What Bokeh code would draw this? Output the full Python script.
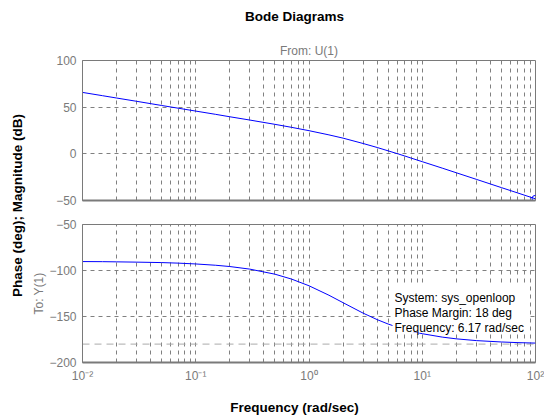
import math
from bokeh.plotting import figure
from bokeh.layouts import row, column
from bokeh.models import FixedTicker, CustomJSTickFormatter, Title, Span
from bokeh.core.properties import value
from bokeh.embed import file_html
from bokeh.resources import INLINE

# ---------------- data ----------------
freq = [0.01, 0.015, 0.02, 0.03, 0.05, 0.07, 0.1, 0.15, 0.2, 0.3, 0.5, 0.7,
        1.0, 1.5, 2.0, 3.0, 4.0, 5.0, 6.17, 7.0, 8.0, 10.0, 15.0, 20.0,
        30.0, 50.0, 70.0, 100.0]
mag_db = [65.8, 62.3, 59.8, 56.3, 51.8, 48.9, 45.8, 42.3, 39.7, 36.2, 31.6, 28.4,
          24.8, 20.3, 16.8, 11.1, 6.8, 3.2, -0.2, -2.3, -4.6, -8.4, -15.3, -20.3,
          -27.3, -36.2, -42.0, -48.2]
phase_deg = [-90.3, -90.4, -90.6, -90.9, -91.4, -92.0, -92.9, -94.3, -95.7, -98.5, -104.0, -109.3,
             -116.6, -126.9, -135.0, -146.3, -153.4, -158.2, -162.0, -164.1, -166.0, -168.7, -172.4, -174.3,
             -176.2, -177.7, -178.4, -178.9]

pm_freq = 6.17
pm_deg = 18
system_name = "sys_openloop"

mag_ticks = [-50, 0, 50, 100]
phase_ticks = [-200, -150, -100, -50]
phase_ref = -180
xtick_values = [0.01, 0.1, 1, 10, 100]
xtick_labels = ["10\u207b\u00b2", "10\u207b\u00b9", "10\u2070", "10\u00b9", "10\u00b2"]
grid_freqs = [m * 10.0 ** e for e in range(-2, 2) for m in range(1, 10)] + [100.0]

title_text = "Bode Diagrams"
from_text = "From: U(1)"
to_text = "To: Y(1)"
ylabel_text = "Phase (deg); Magnitude (dB)"
xlabel_text = "Frequency (rad/sec)"

# ---------------- styling ----------------
FONT = "Liberation Sans"
GRAY = "#7a7a7a"
GRID = "#808080"
BLUE = "#0000ff"

W = 544
TOP_H = 30      # strip holding the main title
BOT_H = 24      # strip holding the x label
MID_H = 420 - TOP_H - BOT_H
LEFT_W = 28

fmt = CustomJSTickFormatter(args=dict(vals=xtick_values, labs=xtick_labels), code="""
let best = 0, d = Infinity;
for (let i = 0; i < vals.length; i++) {
  const dd = Math.abs(Math.log10(vals[i]) - Math.log10(tick));
  if (dd < d) { d = dd; best = i; }
}
return labs[best];
""")


def blank(width, height):
    f = figure(width=width, height=height, x_range=(0, width), y_range=(0, height),
               x_axis_location=None, y_axis_location=None, toolbar_location=None,
               output_backend="svg", min_border=0, title=None)
    f.outline_line_color = None
    f.grid.grid_line_color = None
    f.grid.visible = False
    return f


def style(p):
    p.outline_line_color = GRAY
    p.outline_line_width = 1
    p.background_fill_color = "white"
    p.border_fill_color = "white"
    for ax in p.axis:
        ax.axis_line_color = GRAY
        ax.major_tick_in = 0
        ax.major_tick_out = 0
        ax.minor_tick_in = 0
        ax.minor_tick_out = 0
        ax.major_label_text_font = FONT
        ax.major_label_text_font_size = "12px"
        ax.major_label_text_color = GRAY
        ax.major_label_standoff = 6
    p.xaxis.axis_line_width = 2
    p.yaxis.axis_line_width = 1
    p.xgrid.ticker = FixedTicker(ticks=grid_freqs)
    for g in p.grid:
        g.grid_line_color = GRID
        g.grid_line_dash = "4 4"
        g.grid_line_width = 1


label_style = dict(text_font=value(FONT), text_font_size="13.5px", text_font_style="bold",
                   text_color="black", text_align="center", text_baseline="middle")

# ---------------- top strip: main title ----------------
pT = blank(W, TOP_H)
pT.text(x=[294], y=[TOP_H - 16], text=[title_text], **label_style)

# ---------------- left strip: shared y label ----------------
p0 = blank(LEFT_W, MID_H)
p0.text(x=[17], y=[MID_H - (205 - TOP_H)], text=[ylabel_text], angle=math.pi / 2, **label_style)

# ---------------- bottom strip: x label ----------------
pB = blank(W, BOT_H)
pB.text(x=[294], y=[BOT_H - (407 - (420 - BOT_H))], text=[xlabel_text], **label_style)

# ---------------- magnitude ----------------
p1 = figure(width=W - LEFT_W, height=212 - TOP_H, x_axis_type="log", x_range=(0.01, 100),
            y_range=(-50, 100), toolbar_location=None, output_backend="svg", title=None,
            min_border_left=54, min_border_right=9, min_border_top=60 - TOP_H, min_border_bottom=12)
p1.xaxis.ticker = FixedTicker(ticks=[])
p1.yaxis.ticker = FixedTicker(ticks=mag_ticks)
style(p1)
p1.ygrid.ticker = FixedTicker(ticks=mag_ticks)
p1.line(freq, mag_db, line_color=BLUE, line_width=1)
p1.scatter([freq[-1]], [mag_db[-1]], marker="circle", size=7, fill_color=None, line_color=BLUE)
p1.add_layout(Title(text=from_text, align="center", text_font=FONT, text_font_size="12px",
                    text_font_style="normal", text_color=GRAY, standoff=6), "above")

# ---------------- phase ----------------
p2 = figure(width=W - LEFT_W, height=208 - BOT_H, x_axis_type="log", x_range=(0.01, 100),
            y_range=(-200, -50), toolbar_location=None, output_backend="svg", title=None,
            min_border_left=54, min_border_right=9, min_border_top=12, min_border_bottom=58 - BOT_H)
p2.xaxis.ticker = FixedTicker(ticks=xtick_values)
p2.xaxis.formatter = fmt
p2.yaxis.ticker = FixedTicker(ticks=phase_ticks)
style(p2)
p2.ygrid.ticker = FixedTicker(ticks=phase_ticks)
p2.yaxis.axis_label = to_text
p2.yaxis.axis_label_text_font = FONT
p2.yaxis.axis_label_text_font_size = "12px"
p2.yaxis.axis_label_text_font_style = "normal"
p2.yaxis.axis_label_text_color = GRAY
p2.yaxis.axis_label_standoff = 0

ref_line = Span(location=phase_ref, dimension="width", line_color="#aaaaaa",
                line_dash="7 5", line_width=1, level="underlay")
p2.add_layout(ref_line)
p2.line(freq, phase_deg, line_color=BLUE, line_width=1)

# data tip box for the phase margin
pm_phase = phase_ref + pm_deg
step = 16.3
p2.quad(left=[5.46], right=[86.7], bottom=[-167.5], top=[-114.1],
        fill_color="white", line_color=None)
p2.text(x=[pm_freq] * 3, y=[pm_phase + 2 * step, pm_phase + step, pm_phase],
        text=["System: " + system_name,
              "Phase Margin: %g deg" % pm_deg,
              "Frequency: %g rad/sec" % pm_freq],
        x_offset=-4, text_align="left", text_baseline="alphabetic",
        text_font=value(FONT), text_font_size="12px", text_color="black")

layout = column(pT, row(p0, column(p1, p2)), pB)
open("out.html", "w").write(file_html(layout, INLINE))
